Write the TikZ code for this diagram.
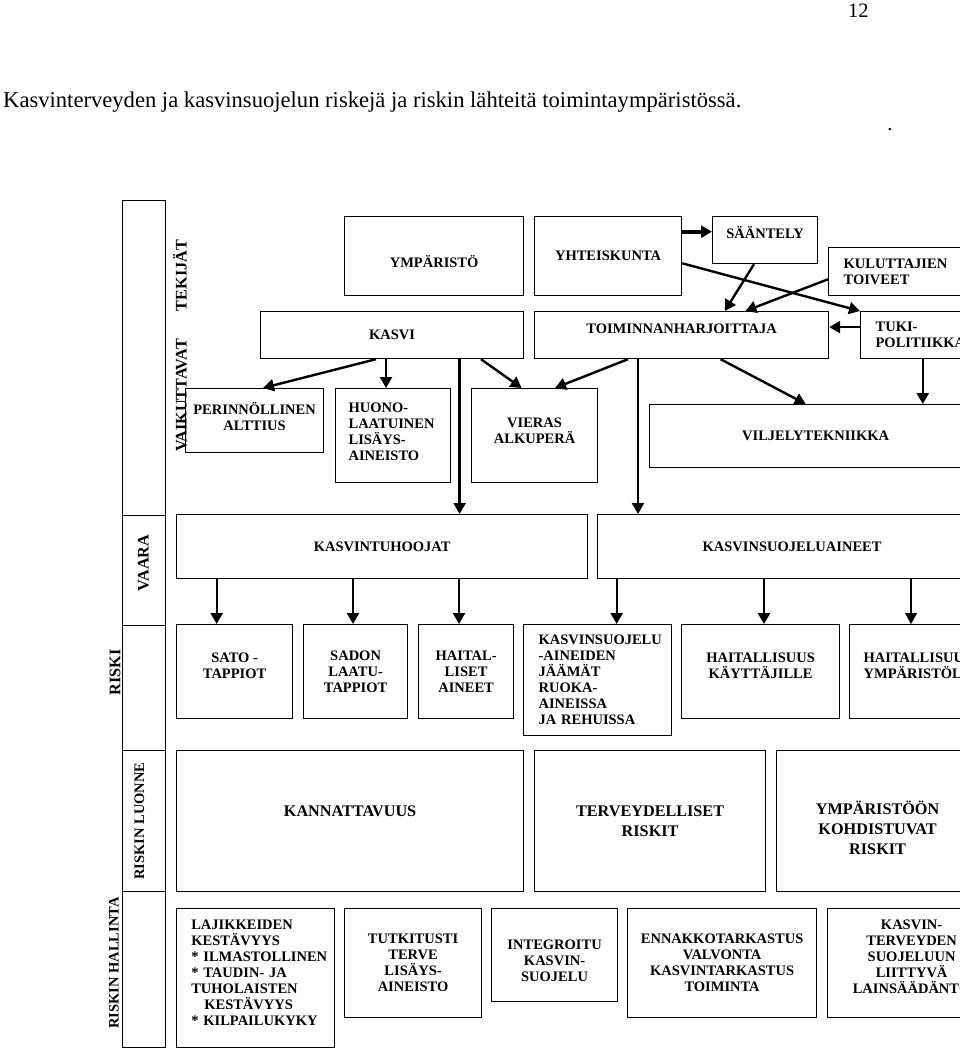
\documentclass[tikz,border=0pt]{standalone}
\usepackage{fontspec}
\setmainfont{Liberation Serif}
\usetikzlibrary{arrows.meta}
\uchyph=0

\newcommand\boxfont{\bfseries\fontsize{14.5}{16}\selectfont}
\newcommand\wideboxfont{\bfseries\fontsize{16.2}{20}\selectfont}
\newcommand\sidefont{\bfseries\fontsize{16.2}{18}\selectfont}
\newcommand\titlefont{\fontsize{22.6}{26}\selectfont}
\newcommand\pagefont{\fontsize{20.5}{24}\selectfont}
% struts that move the text of a box up (depth) or down (height)
\newcommand\liftby[1]{\rule[-#1]{0pt}{0pt}}
\newcommand\sinkto[1]{\rule{0pt}{#1}}

\tikzset{
  box/.style={draw, line width=1.2pt, anchor=north west, inner sep=0pt, align=center, font=\boxfont},
  lbox/.style={box, align=left},
  widebox/.style={box, font=\wideboxfont},
  cell/.style={draw, line width=1.2pt, anchor=north west, minimum width=43pt, inner sep=0pt},
  side/.style={rotate=90, font=\sidefont, inner sep=0pt},
  arr/.style={line width=2.4pt, -{Triangle[length=11pt,width=12pt]}},
}

\begin{document}
\begin{tikzpicture}[x=1pt,y=-1pt]
\useasboundingbox (0,0) rectangle (960,1052);
\clip (0,0) rectangle (960,1052);

% heading
\node[anchor=base west, font=\titlefont, inner sep=0pt] (title) at (3,107.5) {Kasvinterveyden ja kasvinsuojelun riskejä ja riskin lähteitä toimintaympäristössä.};
\node[anchor=base west, font=\pagefont, inner sep=0pt] (page) at (848,17) {12};
\node[anchor=base, font=\pagefont, inner sep=0pt] (dot) at (890,130) {.};

% left strip
\node[cell, minimum height=315pt] (c1) at (122,200) {};
\node[cell, minimum height=110pt] (c2) at (122,515) {};
\node[cell, minimum height=125pt] (c3) at (122,625) {};
\node[cell, minimum height=141pt] (c4) at (122,750) {};
\node[cell, minimum height=156pt] (c5) at (122,891) {};
\node[side] (tekijat) at (180,346) {VAIKUTTAVAT\hspace{28pt}TEKIJÄT};
\node[side] (vaara) at (143.3,563) {VAARA};
\node[side] (riski) at (115,672.5) {RISKI};
\node[side, font=\boxfont] (luonne) at (139.3,821) {RISKIN LUONNE};
\node[side, font=\boxfont] (hallinta) at (114,963) {RISKIN HALLINTA};

% sources
\node[box, minimum width=179pt, minimum height=79pt] (ymp) at (344,216) {\sinkto{22pt}YMPÄRISTÖ};
\node[box, minimum width=147pt, minimum height=79pt] (yht) at (534,216) {YHTEISKUNTA};
\node[box, minimum width=105pt, minimum height=47pt] (saa) at (712,216) {SÄÄNTELY\liftby{15.6pt}};
\node[lbox, minimum height=48pt, inner xsep=15pt, text width=142pt] (kul) at (828,247) {KULUTTAJIEN\\TOIVEET};
\node[box, minimum width=263pt, minimum height=47pt] (kasvi) at (260,311) {KASVI};
\node[box, minimum width=294pt, minimum height=47pt] (toim) at (534,311) {TOIMINNANHARJOITTAJA\liftby{13pt}};
\node[lbox, minimum height=47pt, inner xsep=15pt, text width=110pt] (tuki) at (860,311) {TUKI-\\POLITIIKKA};
\node[box, minimum width=138pt, minimum height=64pt] (per) at (185,388) {PERINNÖLLINEN\\ALTTIUS\liftby{8pt}};
\node[lbox, minimum height=94pt, inner xsep=13pt, text width=89pt] (huono) at (335,388) {HUONO-\\LAATUINEN\\LISÄYS-\\AINEISTO\liftby{8pt}};
\node[box, minimum width=126pt, minimum height=94pt] (vieras) at (471,388) {VIERAS\\ALKUPERÄ\liftby{10pt}};
\node[box, minimum width=332pt, minimum height=63pt] (vilj) at (649,404) {VILJELYTEKNIIKKA};

% hazards
\node[box, minimum width=411pt, minimum height=64pt] (tuho) at (176,514) {KASVINTUHOOJAT};
\node[box, minimum width=389pt, minimum height=64pt] (ksa) at (597,514) {KASVINSUOJELUAINEET};

% risks
\node[box, minimum width=116pt, minimum height=94pt] (sato) at (176,624) {SATO -\\TAPPIOT\liftby{12pt}};
\node[box, minimum width=104pt, minimum height=94pt] (sadon) at (303,624) {SADON\\LAATU-\\TAPPIOT};
\node[box, minimum width=95pt, minimum height=94pt] (hait) at (418,624) {HAITAL-\\LISET\\AINEET};
\node[lbox, minimum height=111pt, inner xsep=15pt, text width=118pt] (jaam) at (523,624) {KASVINSUOJELU\\-AINEIDEN\\JÄÄMÄT\\RUOKA-\\AINEISSA\\JA~REHUISSA};
\node[box, minimum width=158pt, minimum height=94pt] (kayt) at (681,624) {HAITALLISUUS\\KÄYTTÄJILLE\liftby{11pt}};
\node[lbox, minimum height=94pt, inner xsep=14pt, text width=112pt] (ympr) at (849,624) {HAITALLISUUS\\YMPÄRISTÖLLE\liftby{11pt}};

% nature of the risk
\node[widebox, minimum width=347pt, minimum height=141pt] (kann) at (176,750) {KANNATTAVUUS\liftby{19pt}};
\node[widebox, minimum width=231pt, minimum height=141pt] (terv) at (534,750) {TERVEYDELLISET\\RISKIT};
\node[widebox, minimum width=202pt, minimum height=141pt] (ympk) at (776,750) {\sinkto{27.5pt}YMPÄRISTÖÖN\\KOHDISTUVAT\\RISKIT};

% risk management
\node[lbox, minimum height=139pt, inner xsep=14.7pt, text width=128.6pt] (laj) at (176,908) {LAJIKKEIDEN\\KESTÄVYYS\\{*}~ILMASTOLLINEN\\{*}~TAUDIN-~JA\\TUHOLAISTEN\\\hspace*{13pt}KESTÄVYYS\\{*}~KILPAILUKYKY\liftby{11pt}};
\node[box, minimum width=137pt, minimum height=109pt] (tutk) at (344,908) {TUTKITUSTI\\TERVE\\LISÄYS-\\AINEISTO};
\node[box, minimum width=126pt, minimum height=93pt] (integ) at (491,908) {\sinkto{20.6pt}INTEGROITU\\KASVIN-\\SUOJELU};
\node[box, minimum width=189pt, minimum height=109pt] (enn) at (627,908) {ENNAKKOTARKASTUS\\VALVONTA\\KASVINTARKASTUS\\TOIMINTA};
\node[box, minimum width=168pt, minimum height=109pt] (lains) at (827,908) {KASVIN-\\TERVEYDEN\\SUOJELUUN\\LIITTYVÄ\\LAINSÄÄDÄNTÖ\liftby{13pt}};

% arrows
\draw[arr] ([xshift=116pt]kasvi.south west) -- ([xshift=78pt]per.north west);
\draw[arr] ([xshift=126pt]kasvi.south west) -- ([xshift=51pt]huono.north west);
\draw[arr] ([xshift=199.6pt]kasvi.south west) -- ([xshift=283.6pt]tuho.north west);
\draw[arr] ([xshift=221pt]kasvi.south west) -- ([xshift=50.6pt]vieras.north west);
\draw[arr] ([xshift=94pt]toim.south west) -- ([xshift=84pt]vieras.north west);
\draw[arr] ([xshift=104pt]toim.south west) -- ([xshift=41pt]ksa.north west);
\draw[arr] ([xshift=186.6pt]toim.south west) -- ([xshift=156.7pt]vilj.north west);
\draw[arr] ([xshift=62.8pt]tuki.south west) -- ([xshift=273.8pt]vilj.north west);
\draw[arr] ([yshift=8pt]tuki.west) -- ([yshift=8pt]toim.east);
\draw[arr, line width=3.6pt] ([yshift=-15.7pt]yht.north east) -- ([yshift=-15.7pt]saa.north west);
\draw[arr] ([xshift=42pt]saa.south west) -- ([xshift=190.8pt]toim.north west);
\draw[arr] ([yshift=-32.3pt]kul.north west) -- ([xshift=211.4pt]toim.north west);
\draw[arr] ([yshift=-47.3pt]yht.north east) -- (tuki.north west);
\draw[arr] ([xshift=40.7pt]tuho.south west) -- ([xshift=40.7pt]sato.north west);
\draw[arr] ([xshift=177pt]tuho.south west) -- ([xshift=50pt]sadon.north west);
\draw[arr] ([xshift=283pt]tuho.south west) -- ([xshift=41pt]hait.north west);
\draw[arr] ([xshift=19.7pt]ksa.south west) -- ([xshift=93.7pt]jaam.north west);
\draw[arr] ([xshift=167pt]ksa.south west) -- ([xshift=83pt]kayt.north west);
\draw[arr, line width=1.2pt] ([xshift=314pt]ksa.south west) -- ([xshift=62pt]ympr.north west);
\end{tikzpicture}
\end{document}
